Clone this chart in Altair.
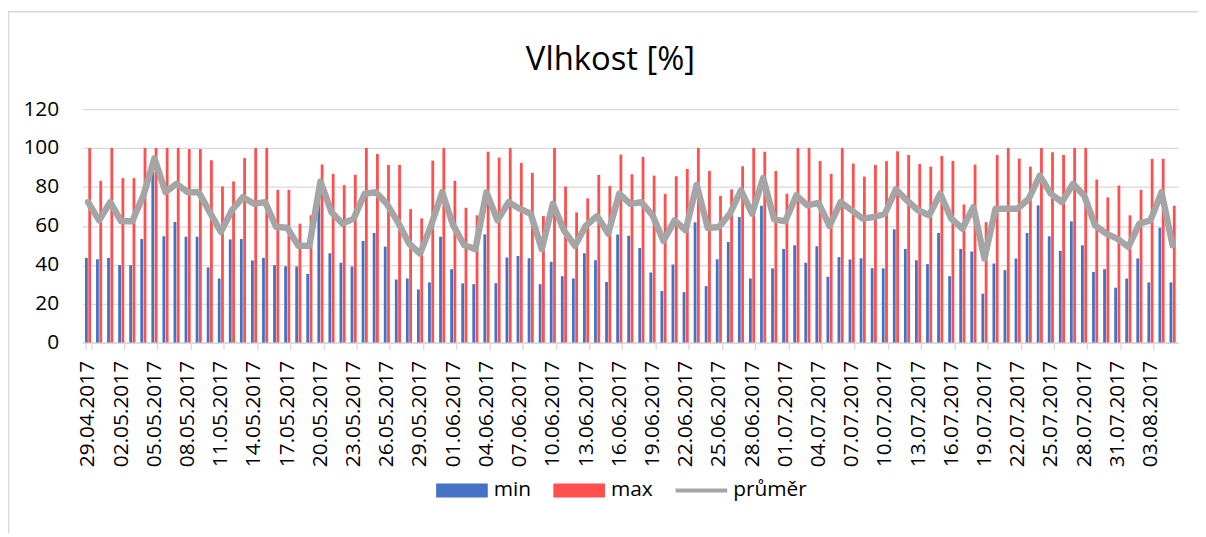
import altair as alt
import pandas as pd

dates = [d.strftime("%d.%m.%Y") for d in pd.date_range("2017-04-29", "2017-08-05")]

min_vals = [43.5, 42.8, 43.5, 39.8, 39.8, 53.2, 88.0, 54.6, 62.0, 54.4,
            54.4, 38.6, 32.9, 53.0, 53.2, 42.2, 43.5, 39.8, 39.2, 39.1,
            35.3, 72.0, 45.9, 41.0, 39.1, 52.2, 56.3, 49.3, 32.4, 32.9,
            27.3, 30.9, 54.4, 37.7, 30.4, 30.0, 55.6, 30.5, 43.7, 44.5,
            43.3, 30.0, 41.5, 34.1, 32.9, 45.9, 42.3, 31.1, 55.5, 54.9,
            48.6, 36.0, 26.5, 40.1, 25.9, 61.8, 29.0, 42.8, 51.7, 64.5,
            32.9, 70.3, 38.1, 48.1, 50.0, 41.0, 49.5, 33.8, 43.9, 42.7,
            43.3, 38.2, 38.1, 58.2, 48.1, 42.3, 40.3, 56.3, 34.1, 48.1,
            46.8, 25.1, 40.6, 37.2, 43.2, 56.3, 70.5, 54.6, 47.1, 62.3,
            50.0, 36.3, 37.7, 28.2, 32.9, 43.2, 30.9, 59.0, 30.9]

max_vals = [100, 83.1, 100, 84.5, 84.5, 100, 100, 100, 100, 99.5,
            99.5, 93.7, 80.2, 82.8, 94.9, 100, 100, 78.5, 78.5, 61.1,
            65.4, 91.5, 86.7, 80.9, 86.2, 100, 96.9, 91.3, 91.3, 68.6,
            63.8, 93.5, 100, 83.1, 69.3, 65.4, 98.1, 95.1, 100, 92.3,
            87.2, 65.0, 100, 80.2, 66.9, 74.1, 86.2, 80.4, 96.6, 86.5,
            95.4, 85.8, 76.5, 85.5, 89.2, 100, 88.2, 75.4, 78.7, 90.6,
            100, 98.1, 88.2, 76.5, 100, 100, 93.3, 86.7, 100, 92.0,
            85.3, 91.3, 93.2, 98.3, 96.4, 91.8, 90.4, 95.9, 93.3, 71.0,
            91.5, 61.9, 96.4, 100, 94.5, 90.4, 100, 97.8, 96.4, 100,
            100, 83.8, 74.6, 80.7, 65.4, 78.5, 94.4, 94.5, 70.3]

avg_vals = [72.2, 62.8, 72.2, 62.3, 62.3, 75.6, 94.7, 77.3, 81.6, 77.3,
            77.3, 67.0, 56.8, 68.0, 74.7, 71.3, 72.2, 59.4, 59.0, 49.7,
            49.7, 82.8, 67.0, 61.1, 63.7, 76.5, 77.3, 71.3, 61.9, 50.9,
            45.7, 60.2, 77.3, 60.2, 50.0, 48.0, 77.3, 62.8, 72.2, 68.8,
            66.2, 48.0, 71.3, 57.7, 49.7, 60.2, 65.0, 56.0, 76.5, 71.3,
            72.2, 65.4, 52.2, 62.8, 57.7, 81.1, 58.9, 59.4, 66.2, 78.2,
            66.2, 84.5, 63.3, 62.3, 75.6, 70.5, 71.8, 59.9, 72.2, 68.0,
            63.7, 64.5, 66.2, 78.7, 73.0, 68.0, 65.4, 76.5, 63.7, 58.5,
            69.6, 43.2, 68.8, 68.8, 68.8, 73.9, 85.8, 76.5, 72.2, 81.6,
            75.6, 60.2, 56.0, 53.4, 49.1, 61.1, 62.8, 77.3, 50.0]

series_names = ["min", "max", "průměr"]
series_colors = ["#4472c4", "#ff5050", "#a5a5a5"]
series_shapes = ["M-1,-0.27L1,-0.27L1,0.27L-1,0.27Z",
                 "M-1,-0.27L1,-0.27L1,0.27L-1,0.27Z",
                 "M-1,-0.075L1,-0.075L1,0.075L-1,0.075Z"]
y_ticks = [0, 20, 40, 60, 80, 100, 120]
tick_dates = dates[::3]

rows = []
for i, d in enumerate(dates):
    rows.append({"date": d, "series": "min", "value": min_vals[i]})
    rows.append({"date": d, "series": "max", "value": max_vals[i]})
    rows.append({"date": d, "series": "průměr", "value": avg_vals[i]})
df = pd.DataFrame(rows)

FONT = "Open Sans"

legend = alt.Legend(
    title=None, orient="none", legendX=356, legendY=358, direction="horizontal",
    columns=3, labelFontSize=21, labelFont=FONT, labelColor="black",
    symbolSize=2704, symbolStrokeWidth=0, symbolOpacity=1,
    labelOffset=6, columnPadding=22,
)
color = alt.Color("series:N", scale=alt.Scale(domain=series_names, range=series_colors), legend=legend)
shape = alt.Shape("series:N", scale=alt.Scale(domain=series_names, range=series_shapes), legend=legend)

x_axis = alt.Axis(
    values=tick_dates, labelAngle=270, labelAlign="right", labelBaseline="middle",
    labelFontSize=21, labelFont=FONT, labelColor="black", labelPadding=11,
    tickSize=7, tickColor="#d9d9d9", tickWidth=1.3, domainColor="#d9d9d9", domainWidth=1.3,
    tickBand="extent", grid=False, labelOverlap=False, labelFlush=False,
)
x_scale = alt.Scale(domain=dates, paddingInner=0.45, paddingOuter=0.225)
x = alt.X("date:N", scale=x_scale, axis=x_axis, title=None)
x_line = alt.X("date:N", scale=x_scale, axis=x_axis, title=None, bandPosition=0.5)
y = alt.Y("value:Q", scale=alt.Scale(domain=[0, 120]),
          axis=alt.Axis(values=y_ticks, grid=True, gridColor="#d9d9d9", gridWidth=1.3,
                        domain=False, ticks=False, labelPadding=24, labelFontSize=21,
                        labelFont=FONT, labelColor="black"),
          title=None)

base = alt.Chart(df)

bars = base.transform_filter(
    alt.FieldOneOfPredicate(field="series", oneOf=["min", "max"])
).mark_bar().encode(
    x=x,
    xOffset=alt.XOffset("series:N", scale=alt.Scale(domain=["min", "max"], paddingInner=0.15)),
    y=y,
    color=color,
)

line = base.transform_filter(
    alt.datum.series == "průměr"
).mark_line(strokeWidth=6.5, strokeJoin="round", strokeCap="round").encode(
    x=x_line, y=y, color=color,
)

dummy = base.mark_point(filled=True, opacity=0).encode(
    x=x_line, y=y, color=color, shape=shape,
)

frame = alt.Chart(pd.DataFrame({"k": [0]})).mark_rect(
    fill="transparent", stroke="#d9d9d9", strokeWidth=1.3
).encode(
    x=alt.value(-74.3), x2=alt.value(1400), y=alt.value(-98), y2=alt.value(700)
)

chart = alt.layer(frame, bars, line, dummy).properties(
    width=1103, height=235,
    title=alt.TitleParams("Vlhkost [%]", fontSize=33, font=FONT, fontWeight="normal",
                          color="black", anchor="middle", frame="group", dx=-20, offset=-66),
    autosize=alt.AutoSizeParams(type="none"),
    padding={"left": 75, "top": 100, "right": 20, "bottom": 190},
).configure_view(stroke=None)

chart.save("out.html", embed_options={"renderer": "svg", "actions": False})
